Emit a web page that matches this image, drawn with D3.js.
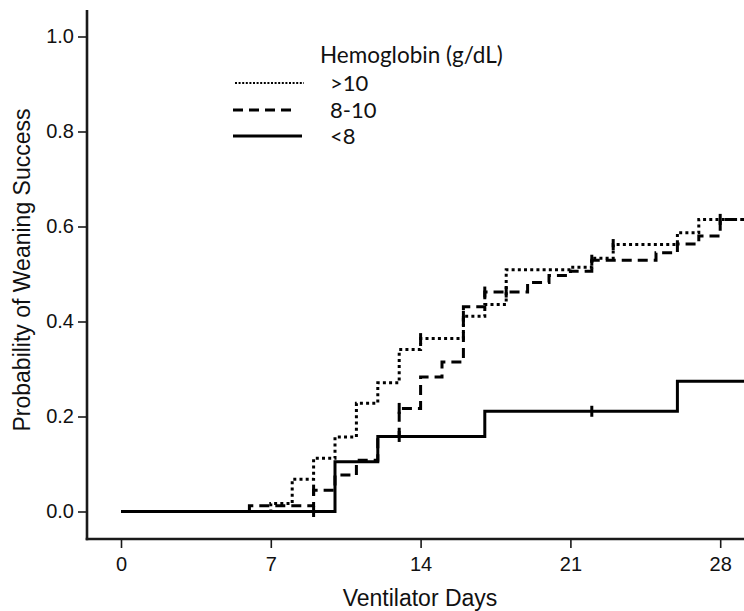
<!DOCTYPE html>
<html>
<head>
<meta charset="utf-8">
<script src="https://cdn.jsdelivr.net/npm/d3@7"></script>
<style>
  html, body { margin: 0; padding: 0; background: #fff; }
  svg { display: block; }
</style>
</head>
<body>
<svg id="chart" width="744" height="611"></svg>
<script>
// ---------- data ----------
const xTicks = [0, 7, 14, 21, 28];
const yTicks = [0.0, 0.2, 0.4, 0.6, 0.8, 1.0];

const legendTitle = "Hemoglobin (g/dL)";
const groupNames = [">10", "8-10", "<8"];

// >10 g/dL (dotted)
const daysHigh = [0, 7, 8, 9, 10, 11, 12, 13, 14, 16, 17, 18, 21, 22, 23, 26, 27];
const probHigh = [0, 0.017, 0.068, 0.112, 0.157, 0.228, 0.271, 0.341, 0.364, 0.411, 0.436, 0.509, 0.514, 0.533, 0.562, 0.587, 0.615];
const censorDaysHigh = [14, 16, 23];

// 8-10 g/dL (dashed)
const daysMid = [0, 6, 9, 10, 11, 12, 13, 14, 15, 16, 17, 19, 20, 21, 22, 25, 26, 27, 28];
const probMid = [0, 0.012, 0.045, 0.077, 0.108, 0.158, 0.217, 0.283, 0.315, 0.431, 0.462, 0.482, 0.497, 0.506, 0.529, 0.545, 0.563, 0.58, 0.615];
const censorDaysMid = [9, 13, 17, 18, 22, 28];

// <8 g/dL (solid)
const daysLow = [0, 10, 12, 17, 26];
const probLow = [0, 0.105, 0.158, 0.211, 0.274];
const censorDaysLow = [9, 13, 22];

const lastDay = 29.4;

// ---------- drawing ----------
const svg = d3.select("#chart");
const x = d3.scaleLinear().domain([0, 28]).range([121, 720.2]);
const y = d3.scaleLinear().domain([0, 1]).range([511.5, 36.5]);

const axisColor = "#1a1a1a";
const axisLeftX = 87, axisBottomY = 539;
const axisFont = "'Liberation Sans', Arial, sans-serif";

// axis lines
svg.append("line").attr("x1", axisLeftX).attr("x2", axisLeftX).attr("y1", 10).attr("y2", axisBottomY + 1.3)
  .attr("stroke", axisColor).attr("stroke-width", 2.6);
svg.append("line").attr("x1", axisLeftX - 1.3).attr("x2", 744).attr("y1", axisBottomY).attr("y2", axisBottomY)
  .attr("stroke", axisColor).attr("stroke-width", 2.6);

const yAxis = svg.append("g").attr("transform", `translate(${axisLeftX},0)`)
  .call(d3.axisLeft(y).tickValues(yTicks).tickFormat(d3.format(".1f")).tickSize(9).tickPadding(4));
const xAxis = svg.append("g").attr("transform", `translate(0,${axisBottomY})`)
  .call(d3.axisBottom(x).tickValues(xTicks).tickFormat(d3.format("d")).tickSize(9).tickPadding(9));
[yAxis, xAxis].forEach(g => {
  g.select(".domain").remove();
  g.selectAll(".tick line").attr("stroke", axisColor).attr("stroke-width", 1.6);
  g.selectAll(".tick text").attr("fill", "#111")
    .style("font-family", axisFont).style("font-size", "20px");
});

// axis titles
svg.append("text").attr("x", 420).attr("y", 606).attr("text-anchor", "middle")
  .style("font-family", axisFont).style("font-size", "23px").attr("fill", "#111")
  .text("Ventilator Days");
svg.append("text").attr("transform", "translate(30,270) rotate(-90)").attr("text-anchor", "middle")
  .style("font-family", axisFont).style("font-size", "23px").attr("fill", "#111")
  .text("Probability of Weaning Success");

// curves
const styles = {
  high: { dash: "3,3.2", width: 3 },
  mid: { dash: "10,6", width: 3 },
  low: { dash: null, width: 3 }
};
const series = [
  { key: "high", days: daysHigh, prob: probHigh, censor: censorDaysHigh },
  { key: "mid", days: daysMid, prob: probMid, censor: censorDaysMid },
  { key: "low", days: daysLow, prob: probLow, censor: censorDaysLow }
];

const line = d3.line().x(d => x(d[0])).y(d => y(d[1])).curve(d3.curveStepAfter);

series.forEach(s => {
  const pts = s.days.map((d, i) => [d, s.prob[i]]);
  pts.push([lastDay, s.prob[s.prob.length - 1]]);
  const st = styles[s.key];
  svg.append("path").datum(pts).attr("d", line)
    .attr("fill", "none").attr("stroke", "#000").attr("stroke-width", st.width)
    .attr("stroke-dasharray", st.dash).attr("stroke-linejoin", "miter");
  // censor marks
  const valueAt = t => { let v = 0; s.days.forEach((d, i) => { if (d <= t) v = s.prob[i]; }); return v; };
  svg.append("g").selectAll("line").data(s.censor).join("line")
    .attr("x1", d => x(d)).attr("x2", d => x(d))
    .attr("y1", d => y(valueAt(d)) - 5.5).attr("y2", d => y(valueAt(d)) + 5.5)
    .attr("stroke", "#000").attr("stroke-width", 3);
});

// legend
const lg = svg.append("g");
const legendFont = "Lato, 'Open Sans', sans-serif";
lg.append("text").attr("x", 320).attr("y", 63)
  .style("font-family", legendFont).style("font-size", "22.5px").attr("fill", "#111").text(legendTitle);
const legendRows = [
  { key: "high", y: 83, x1: 235, x2: 304 },
  { key: "mid", y: 110, x1: 233, x2: 297 },
  { key: "low", y: 136, x1: 233, x2: 302 }
];
legendRows.forEach((r, i) => {
  const st = styles[r.key];
  lg.append("line").attr("x1", r.x1).attr("x2", r.x2).attr("y1", r.y).attr("y2", r.y)
    .attr("stroke", "#000").attr("stroke-width", r.key === "high" ? 2 : 3)
    .attr("stroke-dasharray", r.key === "high" ? "2,1.6" : st.dash);
  lg.append("text").attr("x", 330).attr("y", r.y + 8)
    .style("font-family", legendFont).style("font-size", "22px").attr("fill", "#111").text(groupNames[i]);
});
</script>
</body>
</html>
